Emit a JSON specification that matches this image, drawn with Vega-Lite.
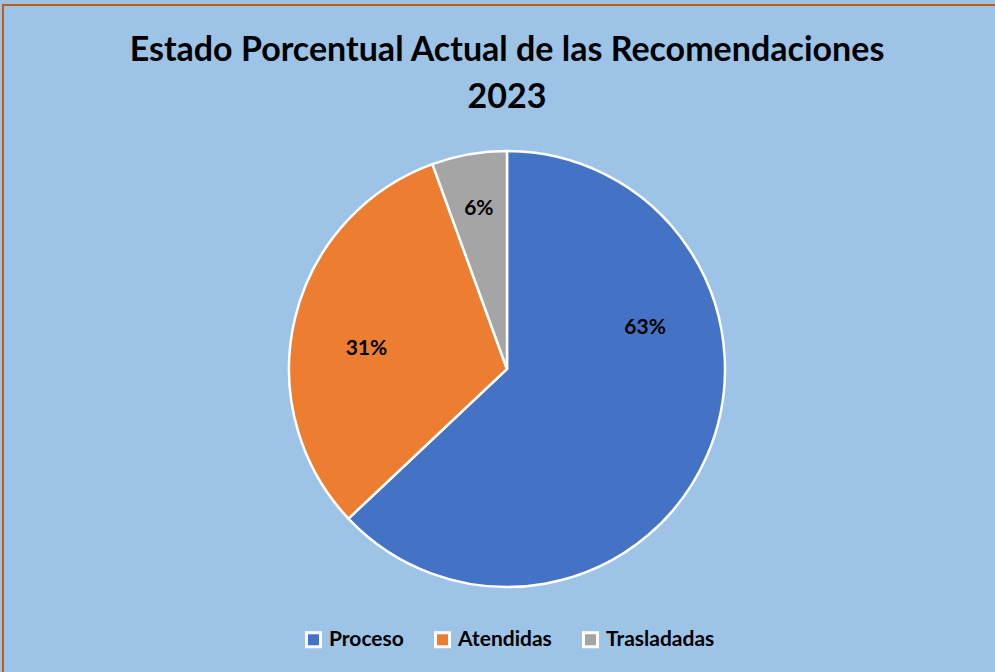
{
  "$schema": "https://vega.github.io/schema/vega-lite/v6.json",
  "autosize": "none",
  "width": 1008,
  "height": 728,
  "padding": {"left": 3, "top": 5, "right": 0, "bottom": 0},
  "background": "#9DC3E6",
  "view": {"stroke": "#C55A11", "strokeWidth": 2},
  "config": {
    "view": {"stroke": "#C55A11", "strokeWidth": 2},
    "font": "Lato"
  },
  "title": {
    "text": ["Estado Porcentual Actual de las Recomendaciones", "2023"],
    "font": "Lato",
    "fontSize": 34,
    "fontWeight": "bold",
    "color": "#000000",
    "lineHeight": 47,
    "anchor": "middle",
    "offset": -110
  },
  "data": {
    "values": [
      {"estado": "Proceso", "valor": 34, "orden": 1, "etiqueta": "63%"},
      {"estado": "Atendidas", "valor": 17, "orden": 2, "etiqueta": "31%"},
      {"estado": "Trasladadas", "valor": 3, "orden": 3, "etiqueta": "6%"}
    ]
  },
  "encoding": {
    "theta": {"field": "valor", "type": "quantitative", "stack": true},
    "order": {"field": "orden", "type": "quantitative"},
    "color": {
      "field": "estado",
      "type": "nominal",
      "scale": {
        "domain": ["Proceso", "Atendidas", "Trasladadas"],
        "range": ["#4472C4", "#ED7D31", "#A5A5A5"]
      },
      "legend": {
        "orient": "none",
        "legendX": 300,
        "legendY": 624,
        "direction": "horizontal",
        "title": null,
        "labelFont": "Lato",
        "labelFontSize": 21,
        "labelFontWeight": "bold",
        "labelColor": "#000000",
        "symbolType": "square",
        "symbolSize": 196,
        "symbolStrokeColor": "#FFFFFF",
        "symbolStrokeWidth": 3,
        "columnPadding": 25,
        "labelOffset": 5,
        "padding": 0
      }
    }
  },
  "layer": [
    {
      "mark": {"type": "arc", "outerRadius": 218, "stroke": "#FFFFFF", "strokeWidth": 2.5}
    },
    {
      "mark": {"type": "text", "radius": 144, "thetaOffset": -0.695, "font": "Lato", "fontSize": 21, "fontWeight": "bold"},
      "encoding": {
        "text": {"condition": {"test": "datum.estado === 'Proceso'", "field": "etiqueta"}, "value": ""},
        "color": {"value": "#000000"}
      }
    },
    {
      "mark": {"type": "text", "radius": 142, "thetaOffset": -0.091, "font": "Lato", "fontSize": 21, "fontWeight": "bold"},
      "encoding": {
        "text": {"condition": {"test": "datum.estado === 'Atendidas'", "field": "etiqueta"}, "value": ""},
        "color": {"value": "#000000"}
      }
    },
    {
      "mark": {"type": "text", "radius": 162, "font": "Lato", "fontSize": 21, "fontWeight": "bold"},
      "encoding": {
        "text": {"condition": {"test": "datum.estado === 'Trasladadas'", "field": "etiqueta"}, "value": ""},
        "color": {"value": "#000000"}
      }
    }
  ]
}
